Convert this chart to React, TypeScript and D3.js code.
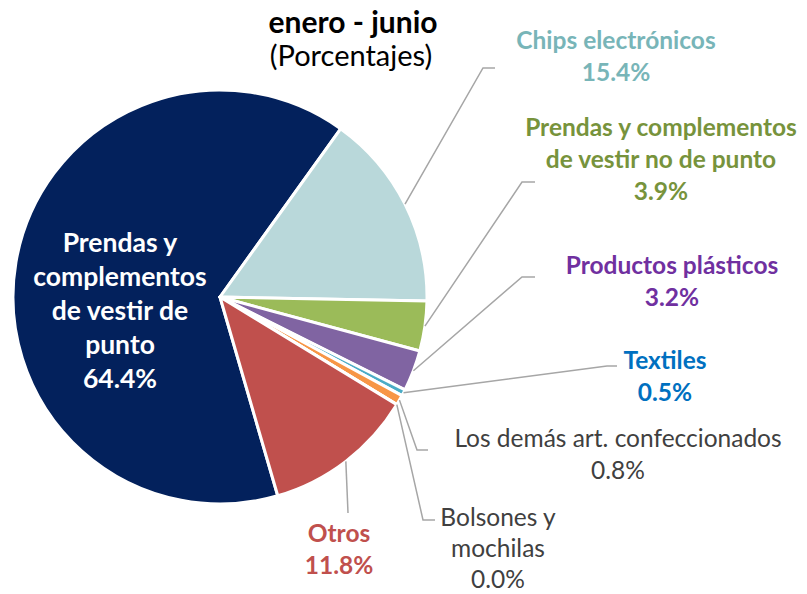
import React from 'react';
import * as d3 from 'd3';

// slice data, clockwise order as drawn
const categories = [
  'Prendas y complementos de vestir de punto',
  'Chips electrónicos',
  'Prendas y complementos de vestir no de punto',
  'Productos plásticos',
  'Textiles',
  'Los demás art. confeccionados',
  'Bolsones y mochilas',
  'Otros',
];
const shares = [64.4, 15.4, 3.9, 3.2, 0.5, 0.8, 0.0, 11.8];
const shareLabels = ['64.4%', '15.4%', '3.9%', '3.2%', '0.5%', '0.8%', '0.0%', '11.8%'];
const sliceColors = ['#03215c', '#b9d8da', '#9bbb59', '#8064a2', '#4bacc6', '#f79646', '#7f7f7f', '#c0504d'];
const labelColors = ['#ffffff', '#78b5b8', '#77933c', '#7030a0', '#0070c0', '#404040', '#404040', '#c0504d'];

// label text lines (name part) per slice
const labelLines = [
  ['Prendas y', 'complementos', 'de vestir de', 'punto'],
  ['Chips electrónicos'],
  ['Prendas y complementos', 'de vestir no de punto'],
  ['Productos plásticos'],
  ['Textiles'],
  ['Los demás art. confeccionados'],
  ['Bolsones y', 'mochilas'],
  ['Otros'],
];
const boldLabel = [true, true, true, true, true, false, false, true];

// layout: label center x / first line center y, leader elbow
const labelPos = [
  { x: 120, y: 243, lh: 34, size: 26.5 },
  { x: 616, y: 40, lh: 32, size: 24.5 },
  { x: 661, y: 127, lh: 32, size: 24.5 },
  { x: 672, y: 265, lh: 32, size: 24.5 },
  { x: 665, y: 360, lh: 32, size: 24.5 },
  { x: 618, y: 438, lh: 32, size: 24.5 },
  { x: 498, y: 517, lh: 31, size: 24.5 },
  { x: 339, y: 533, lh: 32, size: 24.5 },
];
const leaders: ([number, number][] | null)[] = [
  null,
  [[483, 68], [495, 68]],
  [[522, 182], [535, 182]],
  [[522, 277], [535, 277]],
  [[607, 366], [617, 366]],
  [[417, 450], [428, 450]],
  [[423, 520], [435, 520]],
  [[348, 513]],
];

const W = 807;
const H = 594;
const cx = 220;
const cy = 297;
const radius = 207;
const font = 'Lato, "Open Sans", sans-serif';

export default function App() {
  const pie = d3
    .pie<number>()
    .sort(null)
    .value((d) => d)
    .startAngle((163.8 * Math.PI) / 180)
    .endAngle(((163.8 + 360) * Math.PI) / 180);
  const arcs = pie(shares);
  const arc = d3.arc<d3.PieArcDatum<number>>().innerRadius(0).outerRadius(radius);

  const edgePoint = (a: d3.PieArcDatum<number>): [number, number] => {
    const m = (a.startAngle + a.endAngle) / 2;
    return [cx + radius * Math.sin(m), cy - radius * Math.cos(m)];
  };

  return (
    <svg width={W} height={H} style={{ position: 'absolute', left: 0, top: 0, background: '#fff' }}>
      <text x={353} y={22} dy="0.35em" textAnchor="middle" fontFamily={font} fontWeight="bold" fontSize={30} fill="#000">
        enero - junio
      </text>
      <text x={351} y={56} dy="0.35em" textAnchor="middle" fontFamily={font} fontSize={29} fill="#000">
        (Porcentajes)
      </text>

      <g transform={`translate(${cx},${cy})`}>
        {arcs.map((a, i) => (
          <path key={i} d={arc(a) ?? ''} fill={sliceColors[i]} stroke="#fff" strokeWidth={3} strokeLinejoin="round" />
        ))}
      </g>

      {arcs.map((a, i) => {
        const pts = leaders[i];
        if (!pts) return null;
        const line = d3.line()([edgePoint(a), ...pts]);
        return <path key={`l${i}`} d={line ?? ''} fill="none" stroke="#a6a6a6" strokeWidth={1.5} />;
      })}

      {categories.map((c, i) => {
        const p = labelPos[i];
        const lines = [...labelLines[i], shareLabels[i]];
        return (
          <text
            key={`t${i}`}
            textAnchor="middle"
            fontFamily={font}
            fontWeight={boldLabel[i] ? 'bold' : 'normal'}
            fontSize={p.size}
            fill={labelColors[i]}
          >
            {lines.map((ln, j) => (
              <tspan key={j} x={p.x} y={p.y + j * p.lh} dy="0.35em">
                {ln}
              </tspan>
            ))}
          </text>
        );
      })}
    </svg>
  );
}
